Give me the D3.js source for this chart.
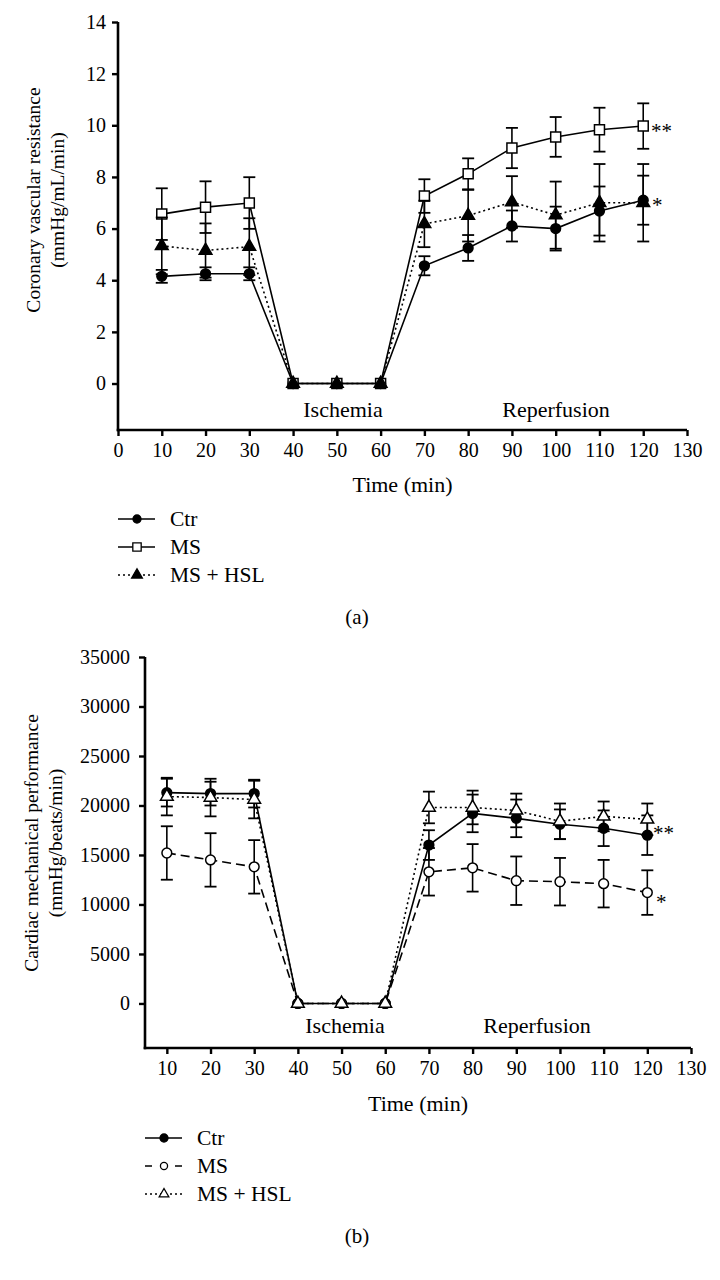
<!DOCTYPE html>
<html>
<head>
<meta charset="utf-8">
<script src="https://cdn.jsdelivr.net/npm/d3@7"></script>
<style>
html,body{margin:0;padding:0;background:#fff;}
svg{display:block;font-family:"Liberation Serif","Times New Roman",serif;}
</style>
</head>
<body>
<svg id="chart" width="720" height="1280"></svg>
<script>
// ---------- data ----------
const times = [10,20,30,40,50,60,70,80,90,100,110,120];

// (a) Coronary vascular resistance
const ctrA    = [4.15,4.25,4.25,0,0,0,4.56,5.25,6.1,6.0,6.68,7.1];
const ctrAErr = [0.25,0.25,0.25,0,0,0,0.37,0.5,0.6,0.85,0.95,0.95];
const msA     = [6.56,6.83,6.99,0,0,0,7.26,8.12,9.12,9.55,9.83,9.97];
const msAErr  = [1.0,1.0,1.0,0,0,0,0.65,0.6,0.78,0.77,0.85,0.88];
const hslA    = [5.33,5.15,5.3,0,0,0,6.18,6.5,7.03,6.52,7.0,7.0];
const hslAErr = [1.1,1.05,1.1,0,0,0,0.9,1.0,1.0,1.3,1.5,1.5];
const yTicksA = [0,2,4,6,8,10,12,14];
const xTicksA = [0,10,20,30,40,50,60,70,80,90,100,110,120,130];

// (b) Cardiac mechanical performance
const ctrB    = [21300,21200,21200,0,0,0,16000,19200,18700,18100,17700,17000];
const ctrBErr = [1400,1200,1400,0,0,0,1500,1900,1900,1500,1800,2000];
const msB     = [15200,14500,13800,0,0,0,13300,13700,12400,12300,12100,11200];
const msBErr  = [2700,2700,2700,0,0,0,2400,2400,2450,2400,2400,2250];
const hslB    = [20900,20800,20600,0,0,0,19800,19800,19500,18400,18900,18600];
const hslBErr = [1900,1900,1900,0,0,0,1600,1700,1700,1800,1500,1600];
const yTicksB = [0,5000,10000,15000,20000,25000,30000,35000];
const xTicksB = [10,20,30,40,50,60,70,80,90,100,110,120,130];

const seriesNames = ["Ctr","MS","MS + HSL"];

// ---------- drawing ----------
const svg = d3.select("#chart");

function drawPanel(cfg){
  const g = svg.append("g");
  const x = d3.scaleLinear().domain(cfg.xDomain).range(cfg.xRange);
  const y = d3.scaleLinear().domain(cfg.yDomain).range(cfg.yRange);

  // axes
  const ax = g.append("g").attr("transform",`translate(0,${cfg.yRange[0]})`)
    .call(d3.axisBottom(x).tickValues(cfg.xTicks).tickSize(6).tickSizeOuter(0).tickPadding(7).tickFormat(d3.format("d")));
  const ay = g.append("g").attr("transform",`translate(${cfg.xRange[0]},0)`)
    .call(d3.axisLeft(y).tickValues(cfg.yTicks).tickSize(6).tickSizeOuter(0).tickPadding(cfg.yPad).tickFormat(d3.format("d")));
  [ax,ay].forEach(a=>{
    a.select(".domain").attr("stroke","#000").attr("stroke-width",2.6);
    a.selectAll(".tick line").attr("stroke","#000").attr("stroke-width",2.4);
    a.selectAll(".tick text").attr("fill","#000").style("font-size","20px").style("font-family","Liberation Serif, serif");
  });
  ay.select(".domain").attr("d",`M0,${cfg.yRange[0]+1.3}V${cfg.yRange[1]}`);
  ax.select(".domain").attr("d",`M${cfg.xRange[0]-1.3},0H${cfg.xRange[1]}`);

  // y title (two lines)
  const yt = g.append("text")
    .attr("transform",`translate(${cfg.yTitleX},${cfg.yTitleY}) rotate(-90)`)
    .attr("text-anchor","middle").style("font-size","19.5px");
  yt.append("tspan").attr("x",0).attr("dy",0).text(cfg.yTitle1);
  yt.append("tspan").attr("x",0).attr("dy",24).text(cfg.yTitle2);

  // x title
  g.append("text").attr("x",(cfg.xRange[0]+cfg.xRange[1])/2).attr("y",cfg.xTitleY)
    .attr("text-anchor","middle").style("font-size","22px").text("Time (min)");

  g.append("text").attr("x",cfg.ischX).attr("y",cfg.labY).attr("text-anchor","middle")
    .style("font-size","22px").text("Ischemia");
  g.append("text").attr("x",cfg.repX).attr("y",cfg.labY).attr("text-anchor","middle")
    .style("font-size","22px").text("Reperfusion");

  // series
  cfg.series.forEach(s=>{
    const data = times.map((t,i)=>({t, v:s.values[i], e:s.err[i]}));
    const sg = g.append("g");
    data.filter(d=>d.e>0).forEach(d=>{
      const cx = x(d.t);
      sg.append("line").attr("x1",cx).attr("x2",cx).attr("y1",y(d.v-d.e)).attr("y2",y(d.v+d.e))
        .attr("stroke","#000").attr("stroke-width",1.6);
      [d.v-d.e,d.v+d.e].forEach(v=>{
        sg.append("line").attr("x1",cx-6).attr("x2",cx+6).attr("y1",y(v)).attr("y2",y(v))
          .attr("stroke","#000").attr("stroke-width",1.8);
      });
    });
    sg.append("path").datum(data)
      .attr("d",d3.line().x(d=>x(d.t)).y(d=>y(d.v)))
      .attr("fill","none").attr("stroke","#000").attr("stroke-width",1.6)
      .attr("stroke-dasharray",s.dash);
    sg.selectAll(".m").data(data).enter().append("path")
      .attr("transform",d=>`translate(${x(d.t)},${y(d.v)})`)
      .attr("d",d3.symbol().type(s.symbol).size(s.size))
      .attr("fill",s.fill).attr("stroke","#000").attr("stroke-width",1.5);
  });

  cfg.stars.forEach(st=>{
    g.append("text").attr("x",st.x).attr("y",st.y).style("font-size","21px").text(st.t);
  });

  // legend
  cfg.series.forEach((s,i)=>{
    const ly = cfg.legY + i*28;
    g.append("line").attr("x1",cfg.legX).attr("x2",cfg.legX+37).attr("y1",ly).attr("y2",ly)
      .attr("stroke","#000").attr("stroke-width",1.6).attr("stroke-dasharray",s.legDash);
    g.append("path").attr("transform",`translate(${cfg.legX+19},${ly})`)
      .attr("d",d3.symbol().type(s.symbol).size(s.legSize))
      .attr("fill",s.fill).attr("stroke","#000").attr("stroke-width",1.3);
    g.append("text").attr("x",cfg.legX+52).attr("y",ly+7).style("font-size","21.5px").text(seriesNames[i]);
  });
  g.append("text").attr("x",357).attr("y",cfg.capY).attr("text-anchor","middle")
    .style("font-size","21px").text(cfg.cap);
}

drawPanel({
  xDomain:[0,130], xRange:[118,687],
  yDomain:[-1.8,14], yRange:[430,22],
  xTicks:xTicksA, yTicks:yTicksA, yPad:6,
  yTitle1:"Coronary vascular resistance", yTitle2:"(mmHg/mL/min)",
  yTitleX:40, yTitleY:200,
  xTitleY:492, ischX:343, repX:556, labY:417,
  series:[
    {values:ctrA, err:ctrAErr, symbol:d3.symbolCircle, size:75, fill:"#000", dash:null, legDash:null, legSize:50},
    {values:msA, err:msAErr, symbol:d3.symbolSquare, size:100, fill:"#fff", dash:null, legDash:null, legSize:70},
    {values:hslA, err:hslAErr, symbol:d3.symbolTriangle, size:70, fill:"#000", dash:"2,3", legDash:"2,3", legSize:50}
  ],
  stars:[{x:651,y:138,t:"**"},{x:652,y:212,t:"*"}],
  legX:118, legY:519, capY:624, cap:"(a)"
});

drawPanel({
  xDomain:[5,130], xRange:[145,691],
  yDomain:[-4500,35000], yRange:[1048,657],
  xTicks:xTicksB, yTicks:yTicksB, yPad:9,
  yTitle1:"Cardiac mechanical performance", yTitle2:"(mmHg/beats/min)",
  yTitleX:38, yTitleY:843,
  xTitleY:1111, ischX:345, repX:537, labY:1033,
  series:[
    {values:ctrB, err:ctrBErr, symbol:d3.symbolCircle, size:75, fill:"#000", dash:null, legDash:null, legSize:50},
    {values:msB, err:msBErr, symbol:d3.symbolCircle, size:75, fill:"#fff", dash:"9,5", legDash:"7,23,7", legSize:40},
    {values:hslB, err:hslBErr, symbol:d3.symbolTriangle, size:70, fill:"#fff", dash:"2,3", legDash:"2,3", legSize:40}
  ],
  stars:[{x:653,y:840,t:"**"},{x:656,y:909,t:"*"}],
  legX:145, legY:1138, capY:1243, cap:"(b)"
});
</script>
</body>
</html>
